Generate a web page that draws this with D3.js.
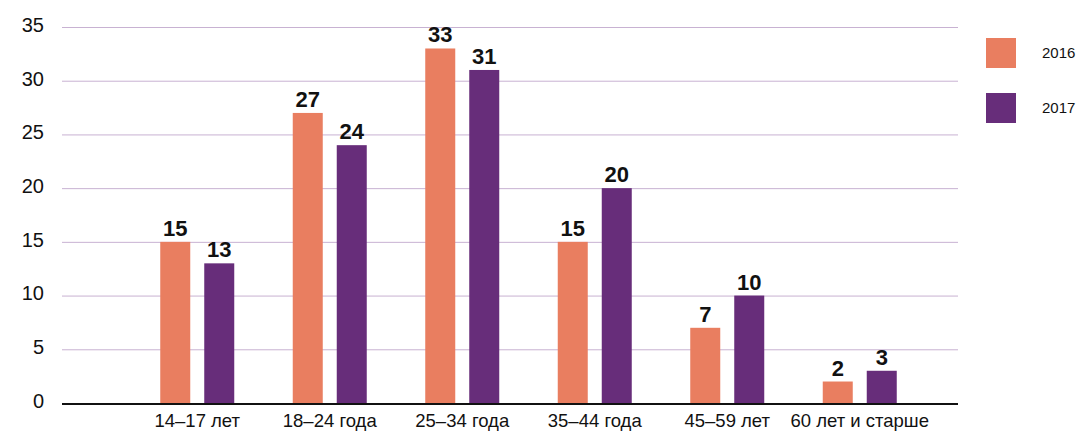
<!DOCTYPE html>
<html><head><meta charset="utf-8">
<script src="https://cdn.jsdelivr.net/npm/d3@7"></script>
<style>body{margin:0;background:#fff}svg{display:block;font-family:"Liberation Sans",Arial,sans-serif}</style>
</head><body><svg id="c" width="1084" height="432"></svg>
<script>
const categories = ["14–17 лет","18–24 года","25–34 года","35–44 года","45–59 лет","60 лет и старше"];
const series = ["2016","2017"];
const values2016 = [15,27,33,15,7,2];
const values2017 = [13,24,31,20,10,3];
const yTicks = [0,5,10,15,20,25,30,35];
const colors = ["#E97E60","#672D7A"];

const svg = d3.select("#c");
const y = d3.scaleLinear().domain([0,35]).range([403,27]);
const x = d3.scaleBand().domain(categories).range([131,926]);
const barW = 30, gap = 14;

// gridlines
svg.append("g").selectAll("line").data(yTicks.filter(d=>d>0)).join("line")
  .attr("x1",62).attr("x2",958).attr("y1",d=>y(d)+0.5).attr("y2",d=>y(d)+0.5)
  .attr("stroke","#C8B2D2").attr("stroke-width",1);

// y axis labels
const yAxis = d3.axisLeft(y).tickValues(yTicks).tickSize(0).tickPadding(0);
const ga = svg.append("g").attr("transform","translate(44,-2)").call(yAxis);
ga.select(".domain").remove();
ga.selectAll("text").attr("font-size",20).attr("fill","#111").attr("font-family","Liberation Sans, Arial, sans-serif");

const data = categories.map((c,i)=>({c, v:[values2016[i],values2017[i]]}));
const groupW = barW*2+gap;
const g = svg.append("g").selectAll("g").data(data).join("g")
  .attr("transform",d=>`translate(${x(d.c)+x.bandwidth()/2-groupW/2},0)`);
g.selectAll("rect").data(d=>d.v.map((v,j)=>({v,j}))).join("rect")
  .attr("x",d=>d.j*(barW+gap)).attr("width",barW)
  .attr("y",d=>y(d.v)).attr("height",d=>y(0)-y(d.v))
  .attr("fill",d=>colors[d.j]);
g.selectAll("text").data(d=>d.v.map((v,j)=>({v,j}))).join("text")
  .attr("x",d=>d.j*(barW+gap)+barW/2).attr("y",d=>y(d.v)-6)
  .attr("text-anchor","middle").attr("font-size",22).attr("font-weight","bold").attr("fill","#111")
  .text(d=>d.v);

// baseline
svg.append("line").attr("x1",62).attr("x2",958).attr("y1",y(0)+1).attr("y2",y(0)+1)
  .attr("stroke","#111").attr("stroke-width",2);

// x labels
const xAxis = d3.axisBottom(x).tickSize(0).tickPadding(0);
const gx = svg.append("g").attr("transform",`translate(0,427)`).call(xAxis);
gx.select(".domain").remove();
gx.selectAll("text").attr("font-size",18.5).attr("fill","#111").attr("dy","0").attr("y",0).attr("font-family","Liberation Sans, Arial, sans-serif");

// legend
const lg = svg.append("g").selectAll("g").data(series).join("g")
  .attr("transform",(d,i)=>`translate(986,${38+i*55})`);
lg.append("rect").attr("width",30).attr("height",30).attr("fill",(d,i)=>colors[i]);
lg.append("text").attr("x",56).attr("y",15).attr("dy","0.35em").attr("font-size",15).attr("fill","#111").text(d=>d);
</script></body></html>
